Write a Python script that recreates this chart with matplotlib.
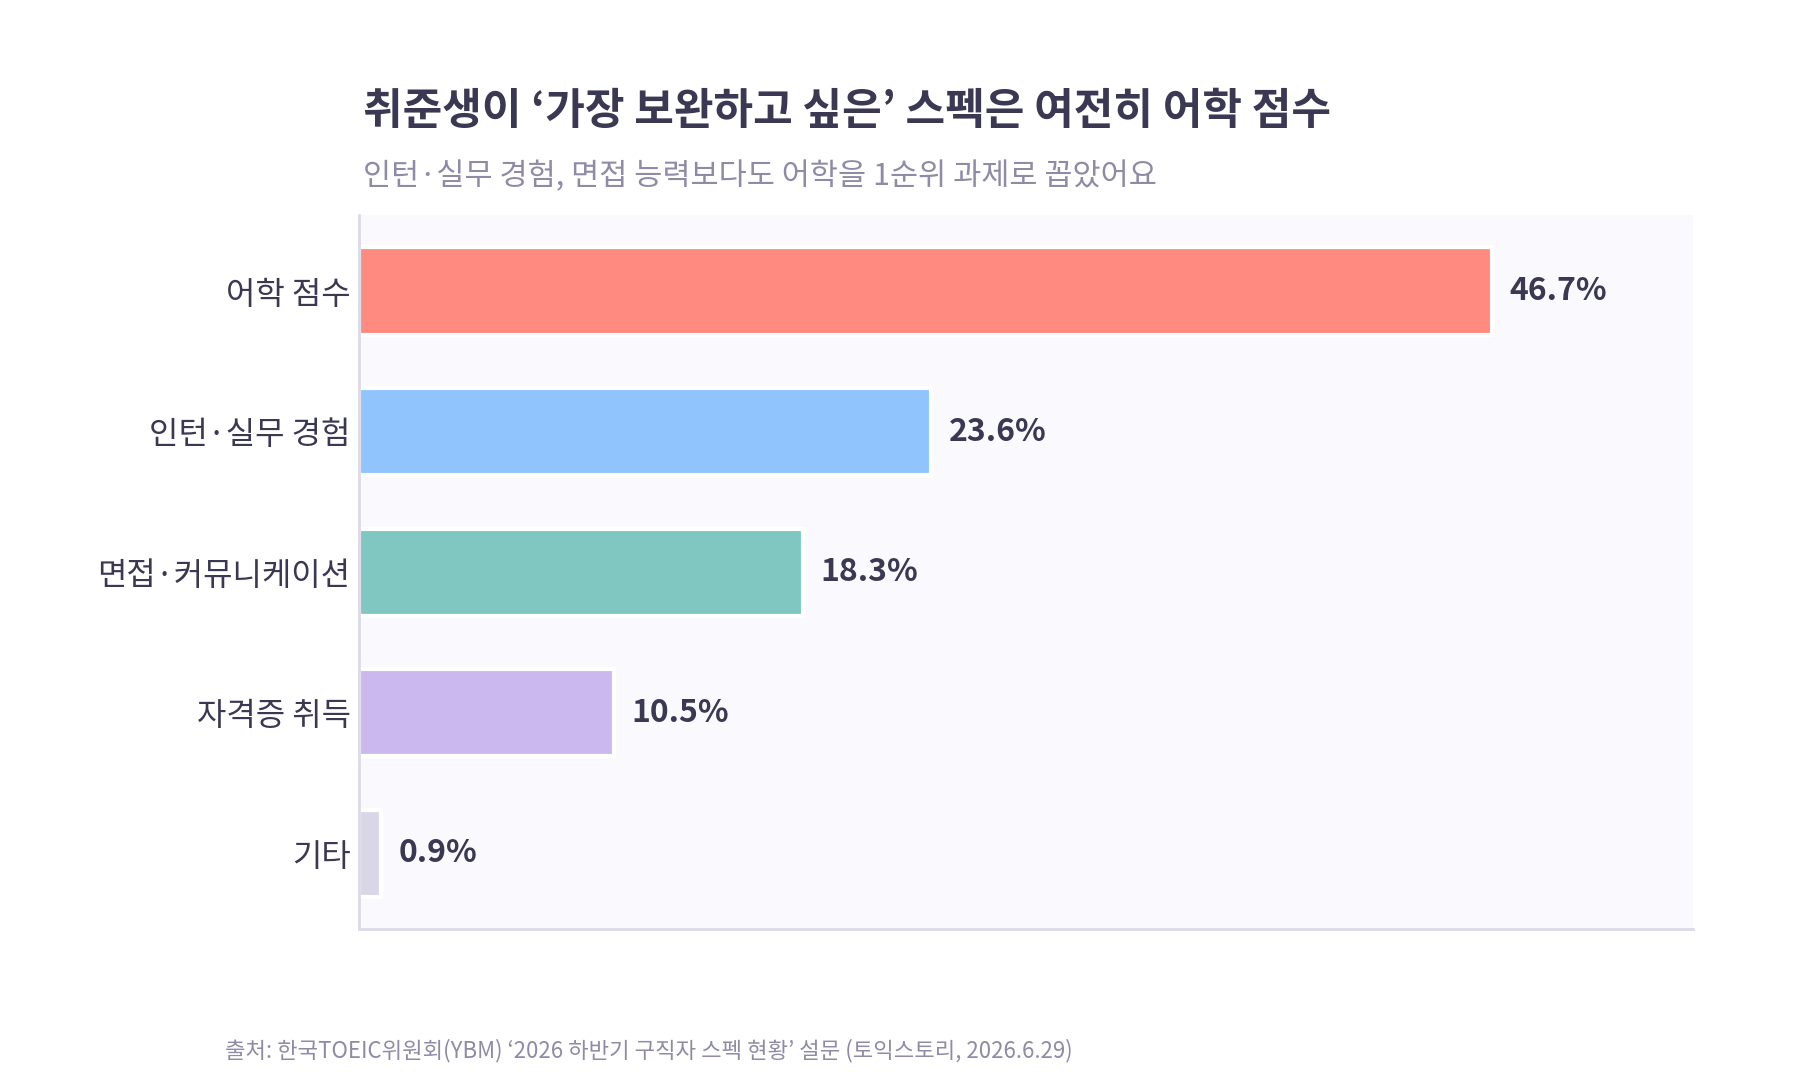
import matplotlib
matplotlib.use('Agg')
import matplotlib.pyplot as plt
import numpy as np

plt.rcParams['font.family'] = ['Noto Sans CJK KR', 'DejaVu Sans']

categories = ['어학 점수', '인턴·실무 경험', '면접·커뮤니케이션', '자격증 취득', '기타']
values = [46.7, 23.6, 18.3, 10.5, 0.9]
colors = ['#FF8A80', '#90C4FC', '#80C7C2', '#CAB8EE', '#D9D6E8']

title = '취준생이 ‘가장 보완하고 싶은’ 스펙은 여전히 어학 점수'
subtitle = '인턴·실무 경험, 면접 능력보다도 어학을 1순위 과제로 꼽았어요'
source = '출처: 한국TOEIC위원회(YBM) ‘2026 하반기 구직자 스펙 현황’ 설문 (토익스토리, 2026.6.29)'

dark = '#3A3852'
muted = '#8E8BA6'

fig = plt.figure(figsize=(18, 10.8), dpi=100)
ax = fig.add_axes([0.1994, 0.1398, 0.7411, 0.661])
ax.set_facecolor('#FAFAFE')

y = np.arange(len(categories))
bars = ax.barh(y, values, height=0.62, color=colors, edgecolor='white', linewidth=3)

for b, v in zip(bars, values):
    ax.annotate(f'{v}%', (b.get_width(), b.get_y() + b.get_height() / 2),
                xytext=(13, 0), textcoords='offset points',
                va='center', ha='left', fontsize=23, fontweight='bold', color=dark)

ax.set_xlim(0, 55)
ax.set_ylim(len(categories) - 0.46, -0.54)
ax.set_yticks(y)
ax.set_yticklabels(categories, fontsize=23, color=dark)
ax.tick_params(axis='y', length=0, pad=6)
ax.set_xticks([])

for s in ['top', 'right']:
    ax.spines[s].set_visible(False)
for s in ['left', 'bottom']:
    ax.spines[s].set_color('#DCDAE8')
    ax.spines[s].set_linewidth(2)

fig.text(0.2014, 0.897, title, fontsize=31, fontweight='bold', color=dark, va='center', ha='left')
fig.text(0.2014, 0.837, subtitle, fontsize=22, color=muted, va='center', ha='left')
fig.text(0.125, 0.027, source, fontsize=16, color=muted, va='center', ha='left')

fig.savefig('out.png', dpi=100, facecolor='white')
